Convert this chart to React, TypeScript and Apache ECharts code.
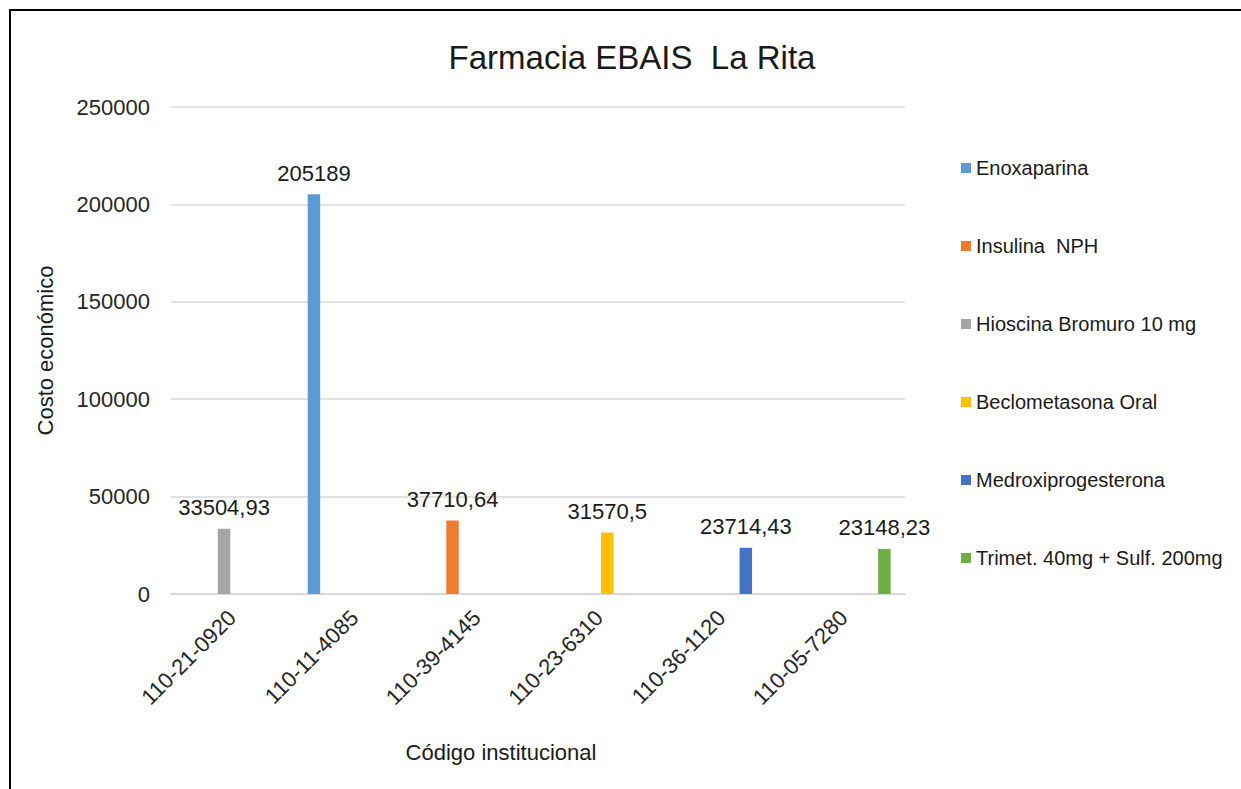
import React, { useEffect, useRef } from "react";
import * as echarts from "echarts";

const categories = ["110-21-0920", "110-11-4085", "110-39-4145", "110-23-6310", "110-36-1120", "110-05-7280"];
const seriesNames = [
  "Enoxaparina",
  "Insulina  NPH",
  "Hioscina Bromuro 10 mg",
  "Beclometasona Oral",
  "Medroxiprogesterona",
  "Trimet. 40mg + Sulf. 200mg",
];
const enoxaparina = [null, 205189, null, null, null, null];
const insulinaNPH = [null, null, 37710.64, null, null, null];
const hioscina = [33504.93, null, null, null, null, null];
const beclometasona = [null, null, null, 31570.5, null, null];
const medroxiprogesterona = [null, null, null, null, 23714.43, null];
const trimetSulf = [null, null, null, null, null, 23148.23];
const seriesValues = [enoxaparina, insulinaNPH, hioscina, beclometasona, medroxiprogesterona, trimetSulf];
const colors = ["#5B9BD5", "#ED7D31", "#A5A5A5", "#FFC000", "#4472C4", "#70AD47"];
const yTicks = { min: 0, max: 250000, interval: 50000 };

const FONT = "'Liberation Sans', Arial, sans-serif";
const FS = 22;

export default function App() {
  const ref = useRef<HTMLDivElement>(null);
  useEffect(() => {
    if (!ref.current) return;
    const chart = echarts.init(ref.current, null, { renderer: "svg" });
    chart.setOption({
      animation: false,
      backgroundColor: "#ffffff",
      textStyle: { fontFamily: FONT },
      graphic: [
        {
          type: "rect",
          shape: { x: 10, y: 10, width: 1260, height: 820 },
          style: { fill: "none", stroke: "#000000", lineWidth: 2 },
          silent: true,
        },
        {
          type: "text",
          x: 632,
          y: 57,
          style: {
            text: "Farmacia EBAIS  La Rita",
            fontSize: 33,
            fontFamily: FONT,
            fill: "#1a1a1a",
            textAlign: "center",
            textVerticalAlign: "middle",
          },
        },
        {
          type: "text",
          x: 501,
          y: 752,
          style: {
            text: "Código institucional",
            fontSize: FS,
            fontFamily: FONT,
            fill: "#1a1a1a",
            textAlign: "center",
            textVerticalAlign: "middle",
          },
        },
      ],
      legend: {
        orient: "vertical",
        left: 956,
        top: 152,
        itemWidth: 10,
        itemHeight: 10,
        itemGap: 56,
        icon: "rect",
        data: seriesNames,
        textStyle: { fontSize: 20, color: "#1a1a1a", fontFamily: FONT, lineHeight: 22 },
      },
      grid: { left: 171, top: 107, right: 336, bottom: 195, containLabel: false },
      xAxis: {
        type: "category",
        data: categories,
        axisLine: { show: true, lineStyle: { color: "#d9d9d9", width: 2 } },
        axisTick: { show: false },
        axisLabel: { rotate: 45, margin: 20, fontSize: FS, color: "#262626", fontFamily: FONT, interval: 0 },
      },
      yAxis: {
        type: "value",
        min: yTicks.min,
        max: yTicks.max,
        interval: yTicks.interval,
        axisLine: { show: false },
        axisTick: { show: false },
        splitLine: { lineStyle: { color: "#d9d9d9", width: 1.5 } },
        axisLabel: { margin: 21, fontSize: FS, color: "#262626", fontFamily: FONT, formatter: (v: number) => String(v) },
        name: "Costo económico",
        nameLocation: "middle",
        nameGap: 115,
        nameTextStyle: { fontSize: FS, color: "#1a1a1a", fontFamily: FONT },
      },
      series: seriesNames.map((name, i) => ({
        name,
        type: "bar",
        data: seriesValues[i],
        barGap: "30%",
        barCategoryGap: "23.5%",
        itemStyle: { color: colors[i] },
        label: {
          show: true,
          position: "top",
          distance: 10,
          fontSize: FS,
          color: "#1a1a1a",
          fontFamily: FONT,
          formatter: (p: any) => (p.value == null ? "" : String(p.value).replace(".", ",")),
        },
      })),
    });
    return () => chart.dispose();
  }, []);
  return <div ref={ref} style={{ position: "fixed", left: 0, top: 0, width: 1241, height: 789 }} />;
}
